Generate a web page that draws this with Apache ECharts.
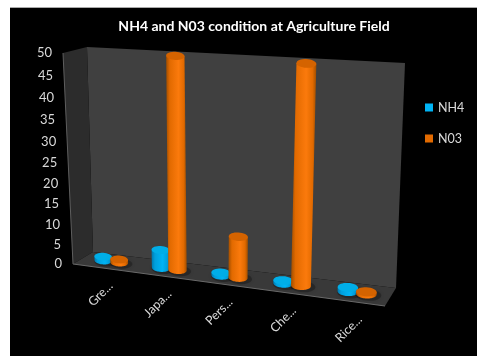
<!DOCTYPE html>
<html>
<head>
<meta charset="utf-8">
<title>NH4 and N03 condition at Agriculture Field</title>
<script src="https://cdn.jsdelivr.net/npm/echarts@6/dist/echarts.min.js"></script>
<style>
  html, body { margin: 0; height: 100%; background: #fff; overflow: hidden; }
  .plate { position: absolute; left: 10px; top: 7px; right: 0; bottom: 0; background: #000; border-top: 1px solid #aaa; }
  #chart { position: absolute; left: 0; top: 0; width: 477px; height: 356px; }
</style>
</head>
<body>
<div class="plate"></div>
<div id="chart"></div>
<script>
const categories = ['Gre...', 'Japa...', 'Pers...', 'Che...', 'Rice...'];
const nh4 = [1, 4.5, 0.7, 0.7, 1];
const n03 = [0.8, 50, 10, 50, 0.5];
const yTicks = [0, 5, 10, 15, 20, 25, 30, 35, 40, 45, 50];

const fontFamily = 'Lato, "Open Sans", sans-serif';

// corners of the 3d box on screen, [x, y]
const box = {
  frontBottomLeft: [73, 264], frontTopLeft: [63, 53],
  frontBottomRight: [385, 306], frontTopRight: [398, 75],
  backBottomLeft: [93, 252], backTopLeft: [87, 47],
  backBottomRight: [396, 288], backTopRight: [405, 63]
};

const lerp = (a, b, k) => [a[0] + (b[0] - a[0]) * k, a[1] + (b[1] - a[1]) * k];

// u across, t up, w into the page, all 0..1
const project3d = (u, t, w) => {
  const up = u / (1.1 - 0.1 * u);
  const tp = t / (1.08 - 0.08 * t);
  const front = lerp(
    lerp(box.frontBottomLeft, box.frontBottomRight, up),
    lerp(box.frontTopLeft, box.frontTopRight, up), tp);
  const back = lerp(
    lerp(box.backBottomLeft, box.backBottomRight, up),
    lerp(box.backTopLeft, box.backTopRight, up), tp);
  return lerp(front, back, w);
};

// flat grid pixel from the axes -> 0..1 inside the grid
const toUnit = (params, pt) => {
  const r = params.coordSys;
  return [(pt[0] - r.x) / r.width, (r.y + r.height - pt[1]) / r.height];
};

const ellipsePoints = (c, rx, ry, from, to) => {
  const pts = [];
  for (let i = 0; i <= 32; i++) {
    const a = from + (to - from) * i / 32;
    const dx = rx * Math.cos(a);
    pts.push([c[0] + dx, c[1] + ry * Math.sin(a) + dx * 0.05]);
  }
  return pts;
};

const cylinder = (colors, offset) => (params, api) => {
  const base = api.coord([api.value(0), 0]);
  const top = api.coord([api.value(0), api.value(1)]);
  const band = api.size([1, 0])[0] / params.coordSys.width;
  const u = toUnit(params, base)[0] + band * offset;
  const t = toUnit(params, top)[1];
  const p0 = project3d(u, 0, 0.5);
  const p1 = project3d(u, t, 0.5);
  const pa = project3d(u - band * 0.155, 0, 0.5);
  const pb = project3d(u + band * 0.155, 0, 0.5);
  const rx = (pb[0] - pa[0]) / 2;
  const ry = rx * 0.44;
  const body = ellipsePoints(p0, rx, ry, Math.PI, 0);
  body.push([p1[0] + rx, p1[1] + rx * 0.05], [p1[0] - rx, p1[1] - rx * 0.05]);
  return {
    type: 'group',
    children: [
      {
        type: 'polygon',
        shape: { points: ellipsePoints([p0[0] + 2, p0[1] + 1], rx * 1.25, ry * 1.3, 0, Math.PI * 2) },
        style: { fill: 'rgba(0,0,0,0.25)', shadowBlur: 5, shadowColor: 'rgba(0,0,0,0.45)' }
      },
      {
        type: 'polygon',
        shape: { points: body },
        style: {
          fill: new echarts.graphic.LinearGradient(0, 0, 1, 0, [
            { offset: 0, color: colors.edge },
            { offset: 0.18, color: colors.side },
            { offset: 0.6, color: colors.light },
            { offset: 0.85, color: colors.side },
            { offset: 1, color: colors.edge }
          ])
        }
      },
      {
        type: 'polygon',
        shape: { points: ellipsePoints(p1, rx, ry, 0, Math.PI * 2) },
        style: { fill: colors.cap }
      }
    ]
  };
};

const renderWalls = () => {
  const wall = (pts, fill) => ({ type: 'polygon', shape: { points: pts }, style: { fill: fill } });
  const edge = (a, b, color) => ({ type: 'line', shape: { x1: a[0], y1: a[1], x2: b[0], y2: b[1] }, style: { stroke: color, lineWidth: 1 } });
  return {
    type: 'group',
    children: [
      wall([box.backBottomLeft, box.backTopLeft, box.backTopRight, box.backBottomRight], '#404040'),
      wall([box.frontBottomLeft, box.frontTopLeft, box.backTopLeft, box.backBottomLeft], '#2c2c2c'),
      wall([box.frontBottomLeft, box.backBottomLeft, box.backBottomRight, box.frontBottomRight], '#393939'),
      edge(box.frontBottomLeft, box.frontBottomRight, '#6a6a6a'),
      edge(box.frontBottomLeft, box.frontTopLeft, '#5e5e5e')
    ]
  };
};

const renderYLabel = (params, api) => {
  const t = toUnit(params, api.coord([0, api.value(0)]))[1];
  const p = project3d(0, t, 0);
  return {
    type: 'text',
    x: p[0] - 11,
    y: p[1],
    style: { text: String(api.value(0)), align: 'right', verticalAlign: 'middle', fill: '#d9d9d9', fontSize: 13, fontFamily: fontFamily }
  };
};

const renderXLabel = (params, api) => {
  const u = toUnit(params, api.coord([api.value(0), 0]))[0];
  const p = project3d(u, 0, 0);
  return {
    type: 'text',
    x: p[0] + 9,
    y: p[1] + 16,
    rotation: Math.PI / 4,
    style: { text: categories[api.value(0)], align: 'right', verticalAlign: 'middle', fill: '#d9d9d9', fontSize: 12.5, fontFamily: fontFamily }
  };
};

const blue = { edge: '#0078ad', side: '#009fdc', light: '#00b4f5', cap: '#00aee8' };
const orange = { edge: '#a04e00', side: '#e26a00', light: '#fb7a0c', cap: '#d46300' };

const chart = echarts.init(document.getElementById('chart'));
chart.setOption({
  animation: false,
  title: {
    text: 'NH4 and N03 condition at Agriculture Field',
    left: 249, top: 14, textAlign: 'center',
    textStyle: { color: '#fff', fontSize: 14, fontWeight: 'bold', fontFamily: fontFamily }
  },
  legend: {
    data: ['NH4', 'N03'],
    orient: 'vertical',
    left: 425, top: 101,
    padding: 0,
    itemWidth: 8, itemHeight: 8, itemGap: 18,
    icon: 'rect',
    textStyle: { color: '#d9d9d9', fontSize: 12.5, fontFamily: fontFamily }
  },
  grid: { left: 0, right: 0, top: 0, bottom: 0 },
  xAxis: { type: 'category', data: categories, show: false },
  yAxis: { type: 'value', min: 0, max: 50, interval: 5, show: false },
  series: [
    { type: 'custom', silent: true, clip: false, z: 1, data: [[0, 0]], renderItem: renderWalls },
    { type: 'custom', silent: true, clip: false, z: 2, data: yTicks.map(v => [v]), encode: { y: 0 }, renderItem: renderYLabel },
    { type: 'custom', silent: true, clip: false, z: 2, data: categories.map((c, i) => [i]), encode: { x: 0 }, renderItem: renderXLabel },
    {
      type: 'custom', name: 'NH4', silent: true, clip: false, z: 3,
      itemStyle: { color: blue.light },
      data: nh4.map((v, i) => [i, v]),
      encode: { x: 0, y: 1 },
      renderItem: cylinder(blue, -0.14)
    },
    {
      type: 'custom', name: 'N03', silent: true, clip: false, z: 4,
      itemStyle: { color: orange.side },
      data: n03.map((v, i) => [i, v]),
      encode: { x: 0, y: 1 },
      renderItem: cylinder(orange, 0.14)
    }
  ]
});
</script>
</body>
</html>
